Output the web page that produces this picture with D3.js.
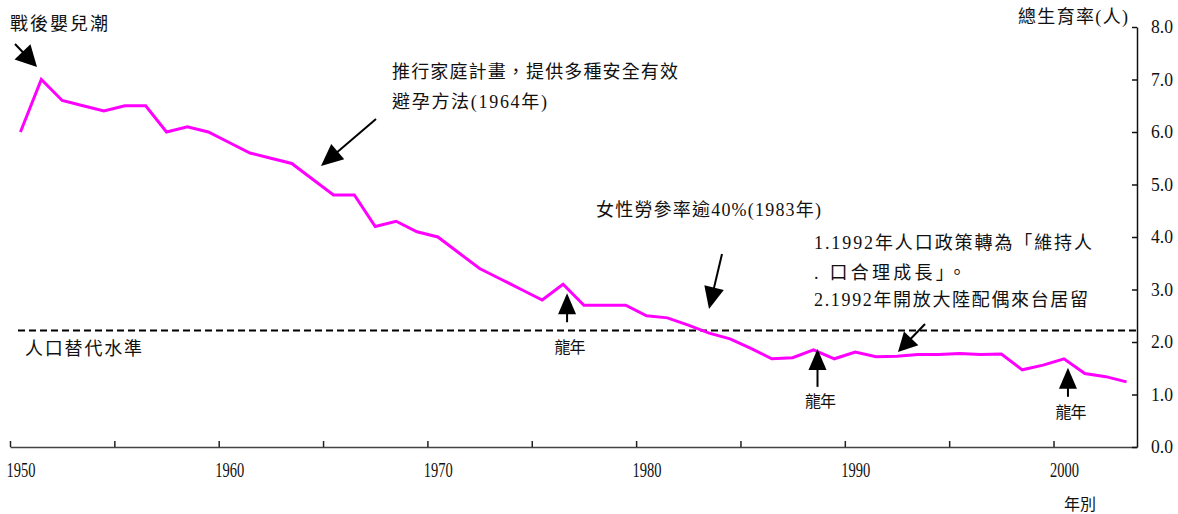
<!DOCTYPE html>
<html>
<head>
<meta charset="utf-8">
<script src="https://cdn.jsdelivr.net/npm/d3@7"></script>
<style>
  body { margin: 0; background: #fff; }
  svg { display: block; }
</style>
</head>
<body>
<svg id="chart" width="1178" height="514"></svg>
<script>
// ---------------- DATA ----------------
const years = [1950,1951,1952,1953,1954,1955,1956,1957,1958,1959,
               1960,1961,1962,1963,1964,1965,1966,1967,1968,1969,
               1970,1971,1972,1973,1974,1975,1976,1977,1978,1979,
               1980,1981,1982,1983,1984,1985,1986,1987,1988,1989,
               1990,1991,1992,1993,1994,1995,1996,1997,1998,1999,
               2000,2001,2002,2003];
const tfr = [6.0,7.0,6.6,6.5,6.4,6.5,6.5,6.0,6.1,6.0,
             5.8,5.6,5.5,5.4,5.1,4.8,4.8,4.2,4.3,4.1,
             4.0,3.7,3.4,3.2,3.0,2.8,3.1,2.7,2.7,2.7,
             2.5,2.46,2.32,2.17,2.06,1.88,1.68,1.70,1.85,1.68,
             1.81,1.72,1.73,1.76,1.76,1.78,1.76,1.77,1.47,1.56,
             1.68,1.40,1.34,1.24];
const replacementLevel = 2.22;
const yTickValues = [0,1,2,3,4,5,6,7,8];
const xLabelYears = [1950,1960,1970,1980,1990,2000];
const xTickBounds = [1949.5,1954.5,1959.5,1964.5,1969.5,1974.5,1979.5,1984.5,1989.5,1994.5,1999.5];
const dragonYears = [1976,1988,2000];
const yAxisTitle = "總生育率(人)";
const xAxisTitle = "年別";
const replacementLabel = "人口替代水準";
const dragonLabel = "龍年";

// ---------------- LAYOUT ----------------
const svg = d3.select("#chart");
const FONT = "'Liberation Serif','Noto Sans CJK TC',serif";
const x = d3.scaleLinear().domain([1949.5, 2003.5]).range([10, 1137]);
const y = d3.scaleLinear().domain([0, 8]).range([447, 27]);

// X axis (ticks pointing up, at category boundaries)
const xAxis = svg.append("g").attr("transform", `translate(0,${y(0)})`)
  .call(d3.axisBottom(x).tickValues(xTickBounds).tickSizeInner(-6).tickSizeOuter(0).tickFormat(""));
xAxis.select(".domain").attr("stroke", "#444").attr("stroke-width", 1.5);
xAxis.selectAll(".tick line").attr("stroke", "#222").attr("stroke-width", 1.5);

// X labels (category centers)
const xLab = svg.append("g").attr("transform", `translate(0,${y(0)})`)
  .attr("font-size", 20).attr("font-family", FONT)
  .call(d3.axisBottom(x).tickValues(xLabelYears).tickSize(0).tickPadding(16).tickFormat(d3.format("d")));
xLab.select(".domain").remove();
xLab.attr("font-size", 20).attr("font-family", FONT);
xLab.selectAll("text").style("font-size", "20px").style("font-family", FONT).attr("fill", "#111")
  .attr("textLength", 29).attr("lengthAdjust", "spacingAndGlyphs");

// Right Y axis
const yAxis = svg.append("g").attr("transform", `translate(${x(2003.5)},0)`)
  .call(d3.axisRight(y).tickValues(yTickValues).tickSizeInner(-5).tickSizeOuter(0).tickPadding(14).tickFormat(d3.format(".1f")));
yAxis.select(".domain").attr("stroke", "#111").attr("stroke-width", 1.5);
yAxis.selectAll(".tick line").attr("stroke", "#111").attr("stroke-width", 1.5);
yAxis.attr("font-size", 18).attr("font-family", FONT);
yAxis.selectAll("text").style("font-size", "18px").style("font-family", FONT).attr("fill", "#111")
  .attr("textLength", 22).attr("lengthAdjust", "spacingAndGlyphs");

// Replacement level dashed line
svg.append("line")
  .attr("x1", 18).attr("x2", x(2003.5))
  .attr("y1", y(replacementLevel)).attr("y2", y(replacementLevel))
  .attr("stroke", "#000").attr("stroke-width", 2).attr("stroke-dasharray", "7,4");

// TFR line
const line = d3.line().x((d, i) => x(years[i])).y(d => y(d));
svg.append("path").datum(tfr)
  .attr("d", line).attr("fill", "none")
  .attr("stroke", "#FF00FF").attr("stroke-width", 3).attr("stroke-linejoin", "miter");

// ---------------- ANNOTATIONS ----------------
function arrow(x1, y1, x2, y2, L, W) {
  const dx = x2 - x1, dy = y2 - y1, len = Math.hypot(dx, dy);
  const ux = dx / len, uy = dy / len;
  const bx = x2 - ux * L, by = y2 - uy * L;
  svg.append("line").attr("x1", x1).attr("y1", y1).attr("x2", bx + ux * 2).attr("y2", by + uy * 2)
    .attr("stroke", "#000").attr("stroke-width", 2);
  svg.append("polygon")
    .attr("points", `${x2},${y2} ${bx - uy * W},${by + ux * W} ${bx + uy * W},${by - ux * W}`)
    .attr("fill", "#000");
}
function label(t, x0, y0, w, size, anchor) {
  svg.append("text").attr("x", x0).attr("y", y0)
    .attr("dominant-baseline", "central")
    .attr("text-anchor", anchor || "start")
    .style("font-family", FONT).style("font-size", (size || 18) + "px").attr("fill", "#111")
    .attr("textLength", w).attr("lengthAdjust", "spacing")
    .text(t);
}

// Post-war baby boom
label("戰後嬰兒潮", 10, 24, 98);
arrow(15, 44, 37, 67, 21, 11);

// Family planning 1964
label("推行家庭計畫，提供多種安全有效", 392, 72, 286);
label("避孕方法(1964年)", 392, 102, 155);
arrow(376, 119, 321, 166, 22, 10);

// Female labour 1983
label("女性勞參率逾40%(1983年)", 596, 210, 225);
arrow(722, 254, 709, 309, 22, 10);

// 1992 policies
label("1.1992年人口政策轉為「維持人", 814, 243, 278);
label(".  口合理成長」。", 814, 273, 152);
label("2.1992年開放大陸配偶來台居留", 814, 300, 274);
arrow(925, 324, 898, 352, 19, 10);

// Replacement level label
label(replacementLabel, 25, 349, 117);

// Axis titles
label(yAxisTitle, 1018, 17, 110);
label(xAxisTitle, 1064, 504, 32, 16);

// Dragon years
const dragonSpec = [
  {tipOff: 9, len: 29, textOff: 54},
  {tipOff: -1, len: 38, textOff: 53},
  {tipOff: 9, len: 29, textOff: 45}
];
dragonYears.forEach((yr, k) => {
  const i = years.indexOf(yr);
  const tx = x(yr) + 4;
  const ty = y(tfr[i]) + dragonSpec[k].tipOff;
  arrow(tx, ty + dragonSpec[k].len, tx, ty, 21, 9);
  label(dragonLabel, tx + 3, ty + dragonSpec[k].textOff, 31, 16, "middle");
});
</script>
</body>
</html>
